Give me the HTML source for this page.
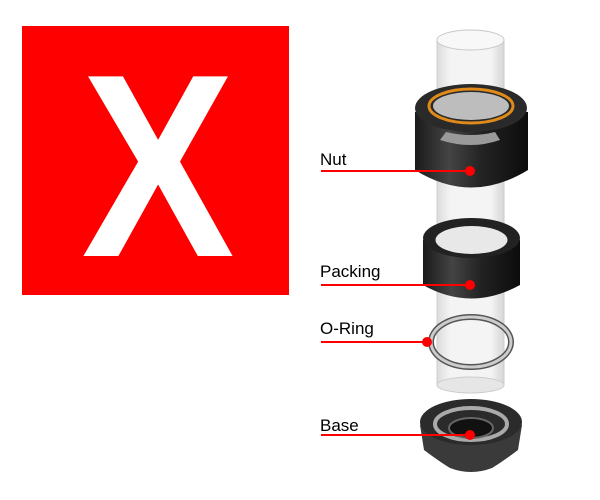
<!DOCTYPE html>
<html><head><meta charset="utf-8"><style>
html,body{margin:0;padding:0;background:#fff;width:600px;height:500px;overflow:hidden}
</style></head><body>
<svg width="600" height="500" viewBox="0 0 600 500" xmlns="http://www.w3.org/2000/svg">
<defs>
<linearGradient id="blk" x1="0" x2="1" y1="0" y2="0">
<stop offset="0" stop-color="#1a1a1a"/><stop offset="0.3" stop-color="#444"/><stop offset="0.6" stop-color="#222"/><stop offset="1" stop-color="#0c0c0c"/>
</linearGradient>
<linearGradient id="tube" x1="0" x2="1">
<stop offset="0" stop-color="#dcdcdc"/><stop offset="0.2" stop-color="#f4f4f4"/><stop offset="0.8" stop-color="#f4f4f4"/><stop offset="1" stop-color="#d6d6d6"/>
</linearGradient>
</defs>
<rect x="22" y="26" width="267" height="269" fill="#ff0000"/>
<text x="158" y="256" font-family="Liberation Sans, sans-serif" font-weight="bold" font-size="261" fill="#fff" text-anchor="middle" transform="translate(158 0) scale(0.88 1) translate(-158 0)">X</text>

<!-- tube -->
<rect x="437" y="40" width="67" height="345" fill="url(#tube)" stroke="#ccc"/>
<ellipse cx="470.5" cy="40" rx="33.5" ry="10" fill="#f8f8f8" stroke="#c8c8c8"/>
<ellipse cx="470.5" cy="385" rx="33.5" ry="8" fill="#e6e6e6" stroke="#ccc"/>

<!-- nut -->
<path d="M415 112 L415 170 Q471 205 528 170 L528 112 Z" fill="url(#blk)"/>
<ellipse cx="471" cy="108" rx="56" ry="24" fill="#2a2a2a"/>
<ellipse cx="471" cy="106" rx="42" ry="17" fill="none" stroke="#e08a1a" stroke-width="3"/>
<ellipse cx="471" cy="106" rx="38" ry="14" fill="#bdbdbd"/>
<path d="M440 140 Q471 150 500 140 L495 132 Q471 138 446 132 Z" fill="#9a9a9a"/>

<!-- packing -->
<path d="M423 240 L423 285 Q471 312 520 285 L520 240 Z" fill="url(#blk)"/>
<ellipse cx="471.5" cy="238" rx="48.5" ry="20" fill="#222"/>
<ellipse cx="471.5" cy="240" rx="36" ry="14" fill="#e8e8e8"/>

<!-- o-ring -->
<ellipse cx="471" cy="342" rx="40" ry="25" fill="none" stroke="#555" stroke-width="6"/>
<ellipse cx="471" cy="342" rx="40" ry="25" fill="none" stroke="#ccc" stroke-width="3"/>

<!-- base -->
<path d="M420 425 L424 450 Q440 462 450 468 Q471 476 492 468 Q502 462 518 450 L522 425 Z" fill="#3a3a3a"/>
<ellipse cx="471" cy="422" rx="51" ry="23" fill="#2b2b2b"/>
<ellipse cx="471" cy="424" rx="36" ry="16" fill="none" stroke="#aaa" stroke-width="4"/>
<ellipse cx="471" cy="428" rx="22" ry="10" fill="#111" stroke="#666" stroke-width="2"/>

<!-- labels -->
<g font-family="Liberation Sans, sans-serif" font-size="17" fill="#000">
<text x="320" y="165">Nut</text>
<text x="320" y="277">Packing</text>
<text x="320" y="334">O-Ring</text>
<text x="320" y="431">Base</text>
</g>
<g stroke="#ff0000" stroke-width="2">
<line x1="321" y1="171" x2="470" y2="171"/>
<line x1="321" y1="285" x2="470" y2="285"/>
<line x1="321" y1="342" x2="427" y2="342"/>
<line x1="321" y1="435" x2="470" y2="435"/>
</g>
<g fill="#ff0000">
<circle cx="470" cy="171" r="5"/>
<circle cx="470" cy="285" r="5"/>
<circle cx="427" cy="342" r="5"/>
<circle cx="470" cy="435" r="5"/>
</g>
</svg>
</body></html>
